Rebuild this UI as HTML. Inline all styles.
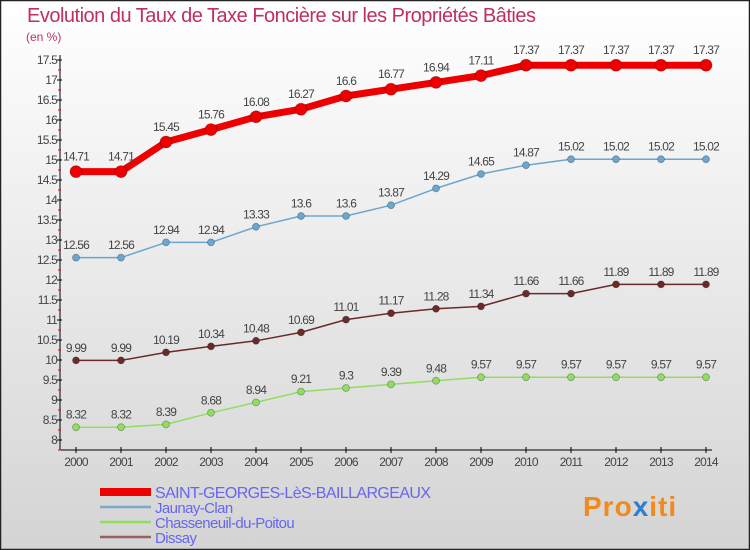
<!DOCTYPE html>
<html><head><meta charset="utf-8"><style>
body{margin:0;width:750px;height:550px;overflow:hidden;font-family:"Liberation Sans",sans-serif}
svg{display:block}
</style></head><body>
<svg id="chart" width="750" height="550" xmlns="http://www.w3.org/2000/svg">
<defs><linearGradient id="bg" x1="0" y1="0" x2="0" y2="1"><stop offset="0" stop-color="#ffffff"/><stop offset="1" stop-color="#d4d4d4"/></linearGradient></defs>
<rect x="0.5" y="0.5" width="749" height="549" fill="url(#bg)" stroke="#222" stroke-width="1.5"/>
<text x="27" y="22" font-size="20" fill="#c0305a" letter-spacing="-0.5">Evolution du Taux de Taxe Foncière sur les Propriétés Bâties</text>
<text x="26" y="41" font-size="12" fill="#c0305a">(en %)</text>
<g id="axes"></g><g id="series"></g><g id="legend"></g>
<text x="583" y="516" font-size="28" font-weight="bold" fill="#f08a1c" letter-spacing="1">Pro<tspan fill="#2a7fd0">x</tspan>iti</text>
</svg>
<script>
const years=[2000,2001,2002,2003,2004,2005,2006,2007,2008,2009,2010,2011,2012,2013,2014];
const stGeorges=[14.71,14.71,15.45,15.76,16.08,16.27,16.6,16.77,16.94,17.11,17.37,17.37,17.37,17.37,17.37];
const jaunay=[12.56,12.56,12.94,12.94,13.33,13.6,13.6,13.87,14.29,14.65,14.87,15.02,15.02,15.02,15.02];
const chasseneuil=[8.32,8.32,8.39,8.68,8.94,9.21,9.3,9.39,9.48,9.57,9.57,9.57,9.57,9.57,9.57];
const dissay=[9.99,9.99,10.19,10.34,10.48,10.69,11.01,11.17,11.28,11.34,11.66,11.66,11.89,11.89,11.89];
const yTicks=[8,8.5,9,9.5,10,10.5,11,11.5,12,12.5,13,13.5,14,14.5,15,15.5,16,16.5,17,17.5];
const seriesNames=["SAINT-GEORGES-LèS-BAILLARGEAUX","Jaunay-Clan","Chasseneuil-du-Poitou","Dissay"];
const NS="http://www.w3.org/2000/svg";
const x=i=>76+i*45, y=v=>440-(v-8)*40;
function mk(tag,attrs,parent,txt){const e=document.createElementNS(NS,tag);for(const k in attrs)e.setAttribute(k,attrs[k]);if(txt!==undefined)e.textContent=txt;parent.appendChild(e);return e;}
const ax=document.getElementById('axes');
let l=mk('line',{x1:60,y1:55,x2:60,y2:450,stroke:'#000','stroke-width':1},ax);


l=mk('line',{x1:60,y1:450,x2:712,y2:450,stroke:'#000','stroke-width':1},ax);


yTicks.forEach(v=>{
  mk('line',{x1:57,y1:y(v),x2:62,y2:y(v),stroke:'#000'},ax);
  mk('line',{x1:58,y1:y(v)+10,x2:61,y2:y(v)+10,stroke:'#e00'},ax);
  const t=mk('text',{x:57,y:y(v)+4,'font-size':12,fill:'#444','text-anchor':'end','letter-spacing':'-0.8'},ax,String(v));
  
  
});
years.forEach((yr,i)=>{
  mk('line',{x1:x(i),y1:447,x2:x(i),y2:453,stroke:'#000'},ax);
  const t=mk('text',{x:x(i),y:466,'font-size':12,fill:'#444','text-anchor':'middle','letter-spacing':'-0.8'},ax,String(yr));
  
  
});
const sg=document.getElementById('series');
function draw(vals,color,lw,r,name){
  const g=mk('g',{},sg);
  
  
  mk('polyline',{points:vals.map((v,i)=>x(i)+','+y(v)).join(' '),fill:'none',stroke:color,'stroke-width':lw,'stroke-linejoin':'round'},g);
  vals.forEach((v,i)=>{
    const c=mk('circle',{cx:x(i),cy:y(v),r:r,fill:color,stroke:'rgba(0,0,0,0.3)','stroke-width':0.8},g);
    
    
    const t=mk('text',{x:x(i),y:y(v)-(r+5),'font-size':12,fill:'#444','text-anchor':'middle','letter-spacing':'-0.8'},g,String(v));
    
    
  });
}
draw(jaunay,'#6aa6d0',1.5,3.5,'series-jaunay-clan');
draw(chasseneuil,'#90dd60',1.5,3.5,'series-chasseneuil');
draw(dissay,'#6a2a2a',1.5,3.5,'series-dissay');
draw(stGeorges,'#ee0000',7,6,'series-saint-georges');
const lg=document.getElementById('legend');
const lcol=['#ee0000','#7aaacc','#90dd60','#9a6060'], lw=[8,2.5,2.5,2.5], ly=[493,508,523,538];
seriesNames.forEach((n,i)=>{
  const g=mk('g',{},lg);
  
  
  mk('line',{x1:100,y1:ly[i]-1,x2:151,y2:ly[i]-1,stroke:lcol[i],'stroke-width':lw[i]},g);
  mk('text',{x:155,y:ly[i]+5,'font-size':i==0?16:15,fill:'#6666ee','letter-spacing':'-0.6'},g,n);
});
</script>
</body></html>
